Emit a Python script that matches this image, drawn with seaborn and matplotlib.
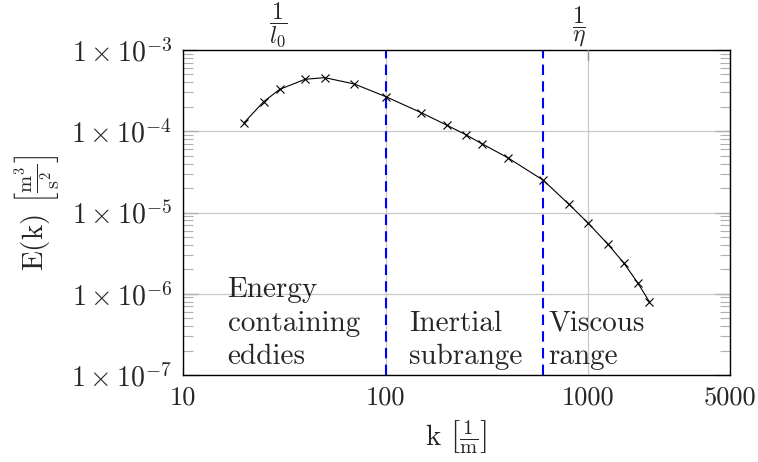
import matplotlib
matplotlib.use("Agg")
import matplotlib.pyplot as plt
import matplotlib.ticker as mticker
import seaborn as sns
import pandas as pd

# data
k_values = [20, 25, 30, 40, 50, 70, 100, 150, 200, 250, 300, 400, 600,
            800, 1000, 1250, 1500, 1750, 2000]
E_values = [1.27e-4, 2.31e-4, 3.28e-4, 4.36e-4, 4.57e-4, 3.82e-4, 2.67e-4,
            1.69e-4, 1.19e-4, 9.0e-5, 6.97e-5, 4.73e-5, 2.49e-5,
            1.27e-5, 7.36e-6, 4.06e-6, 2.37e-6, 1.37e-6, 7.98e-7]
range_bounds = [100, 600]
x_ticks = [10, 100, 1000, 5000]
x_ticklabels = ["10", "100", "1000", "5000"]
y_ticks = [1e-7, 1e-6, 1e-5, 1e-4, 1e-3]
y_ticklabels = [r"$1\times10^{-7}$", r"$1\times10^{-6}$", r"$1\times10^{-5}$",
                r"$1\times10^{-4}$", r"$1\times10^{-3}$"]
top_marks = [29.4, 900]
top_labels = [r"$\dfrac{1}{l_0}$", r"$\dfrac{1}{\eta}$"]
region_x = [16.6, 131, 634]
region_labels = ["Energy\ncontaining\neddies", "Inertial\nsubrange", "Viscous\nrange"]

sns.set_theme(style="white")
plt.rcParams["font.family"] = ["cmr10", "DejaVu Serif"]
plt.rcParams["mathtext.fontset"] = "cm"
plt.rcParams["axes.unicode_minus"] = False
plt.rcParams["axes.formatter.use_mathtext"] = True

df = pd.DataFrame({"k": k_values, "E": E_values})

fig = plt.figure(figsize=(7.58, 4.62), dpi=100)
ax = fig.add_axes([183 / 758, 87 / 462, 547 / 758, 325 / 462])

sns.lineplot(data=df, x="k", y="E", ax=ax, color="black", linewidth=0.8,
             marker="x", markersize=6, markeredgewidth=0.8,
             markeredgecolor="black", zorder=3)

ax.set_xscale("log")
ax.set_yscale("log")
ax.set_xlim(10, 5000)
ax.set_ylim(1e-7, 1e-3)

for b in range_bounds:
    ax.axvline(b, color="#0000ff", linewidth=1.5, linestyle=(0, (5, 3)), zorder=2)

ax.set_xticks(x_ticks)
ax.set_xticklabels(x_ticklabels)
ax.xaxis.set_minor_locator(mticker.NullLocator())
ax.set_yticks(y_ticks)
ax.set_yticklabels(y_ticklabels)
ax.yaxis.set_minor_locator(mticker.LogLocator(base=10, subs=range(2, 10)))
ax.yaxis.set_minor_formatter(mticker.NullFormatter())

ax.tick_params(axis="x", which="both", length=0, labelsize=19, pad=8)
ax.tick_params(axis="y", which="major", direction="in", length=11, width=1,
               color="#b0b0b0", left=True, right=True, labelsize=20, pad=8)
ax.tick_params(axis="y", which="minor", direction="in", length=7, width=0.8,
               color="#b0b0b0", left=True, right=True)

ax.grid(True, which="major", color="#c8c8c8", linewidth=0.9)
ax.set_axisbelow(True)
for s in ax.spines.values():
    s.set_color("black")
    s.set_linewidth(1.0)

# top tick mark at 1000
ax.plot([1000, 1000], [1, 0.97], transform=ax.get_xaxis_transform(),
        color="#909090", linewidth=1, zorder=4, clip_on=False)

for xm, lab in zip(top_marks, top_labels):
    ax.annotate(lab, xy=(xm, 1.0), xycoords=("data", "axes fraction"),
                xytext=(0, 1), textcoords="offset points",
                ha="center", va="bottom", fontsize=17)

for xr, lab in zip(region_x, region_labels):
    ax.text(xr, 0.015, lab, transform=ax.get_xaxis_transform(),
            ha="left", va="bottom", fontsize=21, linespacing=1.35, zorder=5)

ax.set_xlabel(r"k $\left[\frac{1}{\mathrm{m}}\right]$", fontsize=21, labelpad=6)
ax.set_ylabel(r"E(k) $\left[\frac{\mathrm{m}^3}{\mathrm{s}^2}\right]$",
              fontsize=21, labelpad=6)

fig.savefig("out.png", dpi=100)
